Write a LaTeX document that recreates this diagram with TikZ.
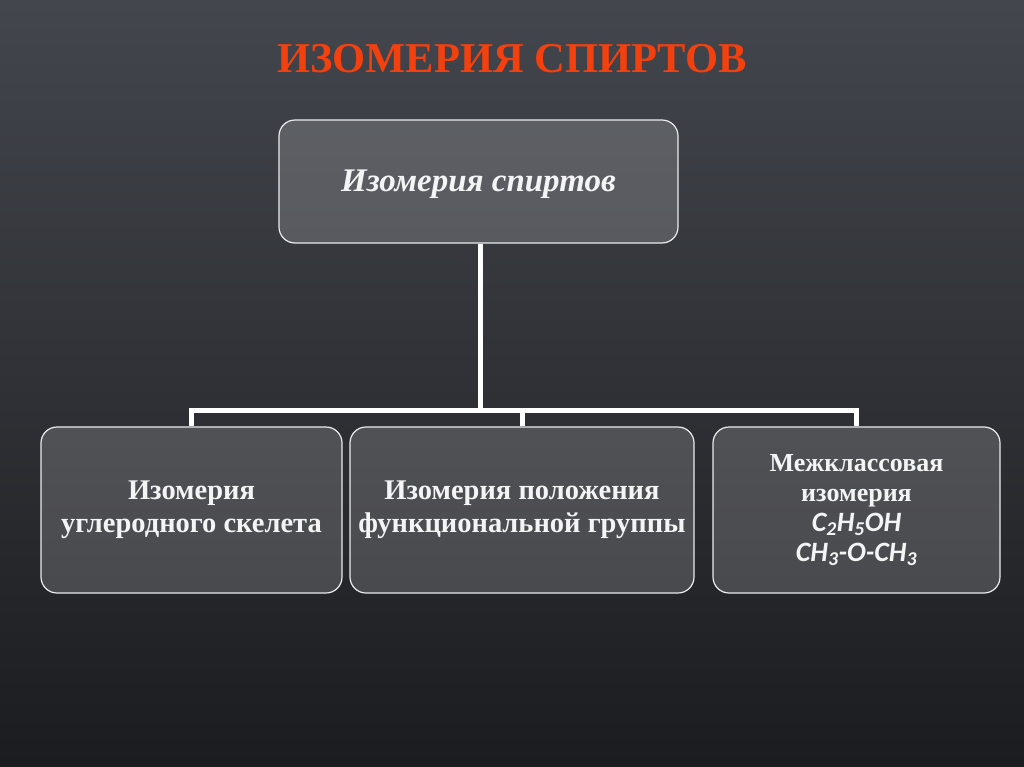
\documentclass[tikz,border=0pt]{standalone}
\usepackage{fontspec}
\setmainfont{Liberation Serif}
\newfontfamily\formfont{Carlito}
\usetikzlibrary{positioning}
\definecolor{ctitle}{HTML}{F2400F}
\definecolor{cbgtop}{HTML}{43464D}
\definecolor{cbgbot}{HTML}{1B1C1F}
\definecolor{ctext}{HTML}{F4F4F4}
\tikzset{
  card/.style={draw=white!92!black, line width=1.2pt, rounded corners=16pt, fill=white, fill opacity=0.17, text opacity=1, text=ctext, align=center, inner sep=0pt, font=\fontsize{28.5}{33}\selectfont\bfseries},
  link/.style={draw=white, line width=5pt},
  heading/.style={text=ctitle, font=\fontsize{42.5}{46}\selectfont\bfseries},
}

\begin{document}
\begin{tikzpicture}[x=1pt,y=-1pt]
\shade[top color=cbgtop, bottom color=cbgbot] (0,0) rectangle (1024,767);
\node[heading] (title) at (512,59) {ИЗОМЕРИЯ СПИРТОВ};
\node[card, minimum width=399pt, minimum height=123pt, font=\fontsize{33}{36}\selectfont\bfseries\itshape] (top) at (478.5,181.5) {\raisebox{-10pt}[0pt][0pt]{Изомерия спиртов}};
\node[card, minimum width=301pt, minimum height=166pt] (skel) at (191.5,510) {Изомерия\\углеродного скелета};
\node[card, minimum width=344pt, minimum height=166pt] (pos) at (522,510) {Изомерия положения\\функциональной группы};
\node[card, minimum width=287pt, minimum height=166pt, font=\fontsize{26}{30}\selectfont\bfseries] (cls) at (856.5,510) {Межклассовая\\изомерия\\{\formfont\fontsize{28}{30}\selectfont\itshape C\textsubscript{2}H\textsubscript{5}OH}\\{\formfont\fontsize{28}{30}\selectfont\itshape CH\textsubscript{3}-O-CH\textsubscript{3}}};
% tree connectors
\coordinate (bus) at (480,410);
\draw[link] (top.south -| bus) -- (bus);
\draw[link] (skel.north) |- (bus) -| (cls.north);
\draw[link] (pos.north) -- (pos.north |- bus);
\end{tikzpicture}
\end{document}
